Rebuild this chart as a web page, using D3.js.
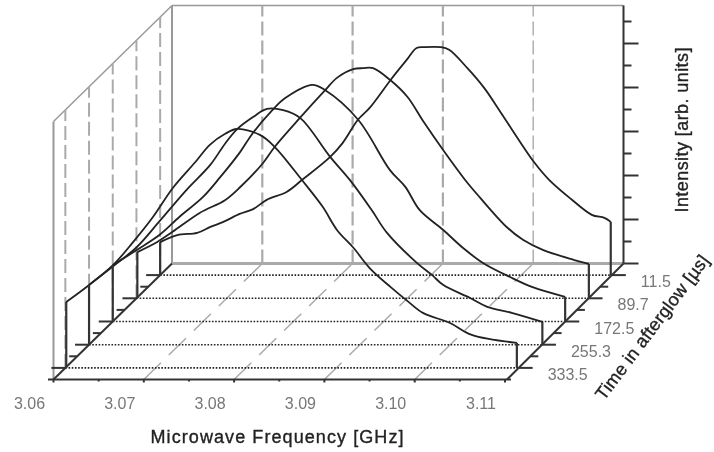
<!DOCTYPE html>
<html lang="en">
<head>
    <meta charset="UTF-8">
    <title>Microwave afterglow spectra</title>
    <script src="https://d3js.org/d3.v7.min.js"></script>
    <style>
        body { margin: 0; background: #fff; }
        svg { display: block; filter: blur(0.4px); }
        text { font-family: "Liberation Sans", Arial, sans-serif; }
        .tick-label { fill: #777; font-size: 16px; }
        .title { fill: #222; stroke: #222; stroke-width: 0.35; font-size: 18px; }
        .wall { stroke: #999; stroke-width: 2; fill: none; }
        .grid { stroke: #aaa; stroke-width: 2; fill: none; }
        .axis { stroke: #333; stroke-width: 2; fill: none; }
        .curve { stroke: #222; stroke-width: 1.8; fill: none; }
        .drop { stroke: #333; stroke-width: 2.2; fill: none; }
    </style>
</head>
<body>
    <svg width="714" height="452"></svg>
    <script>
        const freqTicks = [3.06, 3.07, 3.08, 3.09, 3.10, 3.11];
        const freqMinor = [3.065, 3.075, 3.085, 3.095, 3.105];
        const timeLabels = ["333.5", "255.3", "172.5", "89.7", "11.5"];
        const intensityTicks = [0, 1, 2, 3, 4, 5];
        const intensityMinor = [0.5, 1.5, 2.5, 3.5, 4.5, 5.5];

        const curve333 = [[3.0601,1.50],[3.0626,1.88],[3.0653,2.34],[3.0675,2.86],[3.0697,3.43],[3.0719,4.09],[3.0744,4.68],[3.0760,5.07],[3.0777,5.32],[3.0790,5.43],[3.0816,5.29],[3.0832,5.02],[3.0862,4.27],[3.0885,3.66],[3.0901,3.13],[3.0919,2.73],[3.0937,2.27],[3.0960,1.84],[3.0980,1.50],[3.0996,1.25],[3.1026,1.02],[3.1050,0.75],[3.1100,0.57]];
        const curve255 = [[3.0600,1.36],[3.0627,1.79],[3.0653,2.22],[3.0679,2.83],[3.0708,3.52],[3.0734,4.08],[3.0751,4.58],[3.0764,4.90],[3.0782,5.18],[3.0797,5.36],[3.0815,5.33],[3.0834,5.15],[3.0867,4.27],[3.0889,3.74],[3.0913,3.06],[3.0930,2.54],[3.0963,1.86],[3.0980,1.58],[3.0992,1.36],[3.1022,1.06],[3.1041,0.86],[3.1069,0.72],[3.1102,0.52]];
        const curve172 = [[3.0600,1.28],[3.0627,1.63],[3.0652,1.97],[3.0674,2.38],[3.0700,2.83],[3.0719,3.28],[3.0741,3.85],[3.0755,4.28],[3.0777,4.81],[3.0791,5.08],[3.0821,5.38],[3.0835,5.26],[3.0872,4.58],[3.0907,3.44],[3.0924,3.06],[3.0940,2.53],[3.0966,2.08],[3.0988,1.67],[3.1010,1.33],[3.1040,1.01],[3.1065,0.78],[3.1101,0.56]];
        const curve89 = [[3.0601,1.05],[3.0623,1.28],[3.0640,1.51],[3.0670,1.94],[3.0698,2.23],[3.0715,2.53],[3.0740,3.07],[3.0753,3.44],[3.0781,4.10],[3.0809,4.73],[3.0822,5.01],[3.0840,5.21],[3.0851,5.23],[3.0862,5.23],[3.0881,4.96],[3.0900,4.58],[3.0918,4.01],[3.0941,3.33],[3.0964,2.69],[3.0980,2.30],[3.1010,1.62],[3.1028,1.33],[3.1050,1.10],[3.1085,0.87],[3.1101,0.78]];
        const curve11 = [[3.0600,0.75],[3.0619,0.91],[3.0641,0.96],[3.0655,1.09],[3.0670,1.21],[3.0688,1.39],[3.0703,1.50],[3.0718,1.71],[3.0740,1.89],[3.0757,2.16],[3.0788,2.68],[3.0802,3.00],[3.0819,3.53],[3.0832,3.80],[3.0855,4.43],[3.0873,4.89],[3.0884,5.16],[3.0892,5.18],[3.0911,5.18],[3.0920,5.12],[3.0940,4.71],[3.0959,4.25],[3.0979,3.64],[3.1014,2.57],[3.1031,2.16],[3.1055,1.73],[3.1078,1.37],[3.1092,1.30],[3.1099,1.21]];
        const curves = [curve333, curve255, curve172, curve89, curve11];

        const svg = d3.select("svg");

        // oblique projection: frequency runs across, depth goes up and to the right
        const xFront = d3.scaleLinear().domain([3.06, 3.11]).range([53.5, 505]);
        const depth = d3.scalePoint().domain(timeLabels).range([0, 1]).padding(0.5);
        const depthDx = 118.5, depthDy = 116;
        const floorY = 379.5;
        const zScale = d3.scaleLinear().domain([0, 5]).range([0, 220]);
        const zTop = 258;

        const px = (freq, d) => xFront(freq) + depthDx * d;
        const py = (d, z) => floorY - depthDy * d - (z || 0);
        // right edge of the floor is a little steeper than the frequency grid
        const rightEdge = d => 507 + 116.5 * d;

        function seg(cls, x1, y1, x2, y2) {
            return svg.append("line").attr("class", cls)
                .attr("x1", x1).attr("y1", y1).attr("x2", x2).attr("y2", y2);
        }

        // back wall and left wall
        seg("wall", px(3.06, 1), py(1, zTop), px(3.11, 1), py(1, zTop)).style("stroke-width", 1.5);
        seg("wall", px(3.06, 1), py(1), px(3.06, 1), py(1, zTop));
        seg("wall", px(3.06, 0), py(0), px(3.06, 0), py(0, zTop));
        seg("wall", px(3.06, 0), py(0, zTop), px(3.06, 1), py(1, zTop)).style("stroke-width", 1.5);
        seg("wall", px(3.06, 1), py(1), px(3.11, 1), py(1)).style("stroke", "#aaa").style("stroke-width", 3);

        // dashed grid on back wall, floor and left wall
        freqTicks.slice(1, 5).forEach((f, i) => {
            seg("grid", px(f, 1), py(1), px(f, 1), py(1, zTop))
                .attr("stroke-dasharray", "14 5")
                .style("stroke-width", i == 3 ? 1.4 : 2.2);
            seg("grid", px(f, 0), py(0), px(f, 1), py(1))
                .attr("stroke-dasharray", "24 11").style("stroke-width", 1.5);
        });
        timeLabels.forEach(t => {
            const d = depth(t);
            seg("grid", px(3.06, d), py(d), px(3.06, d), py(d, zTop)).attr("stroke-dasharray", "14 5");
        });

        // dotted lines across the floor
        timeLabels.forEach(t => {
            const d = depth(t);
            seg("axis", px(3.06, d), py(d), rightEdge(d), py(d))
                .attr("stroke-dasharray", "1.6 1.6").style("stroke", "#222").style("stroke-width", 1.6);
        });

        // spectra, with the drop to the floor at each end
        const line = d3.line().curve(d3.curveCatmullRom.alpha(0.5));
        curves.forEach((c, i) => {
            const d = depth(timeLabels[i]);
            const pts = c.map(p => [px(p[0], d), py(d, zScale(p[1]))]);
            const first = pts[0], last = pts[pts.length - 1];
            seg("drop", first[0], py(d), first[0], first[1]);
            seg("drop", last[0], py(d), last[0], last[1]);
            svg.append("path").attr("class", "curve").attr("d", line(pts));
        });

        // floor edges and axes
        seg("axis", 48, floorY, 511, floorY).style("stroke-width", 2);
        seg("axis", px(3.06, 0), py(0), px(3.06, 1), py(1));
        seg("axis", rightEdge(0), py(0), px(3.11, 1), py(1));
        seg("axis", px(3.11, 1), py(1), px(3.11, 1), py(1, zTop));

        // frequency ticks
        freqTicks.forEach(f => {
            seg("axis", xFront(f), floorY, xFront(f), floorY + 3);
            svg.append("text").attr("class", "tick-label")
                .attr("x", xFront(f) - 24).attr("y", floorY + 29)
                .attr("text-anchor", "middle").text(f.toFixed(2));
        });
        freqMinor.forEach(f => seg("axis", xFront(f), floorY, xFront(f), floorY + 2));

        // time ticks, both floor edges
        timeLabels.forEach(t => {
            const d = depth(t);
            seg("axis", px(3.06, d) - 14, py(d), px(3.06, d), py(d));
            seg("axis", rightEdge(d), py(d), rightEdge(d) + 14, py(d));
            svg.append("text").attr("class", "tick-label")
                .attr("x", rightEdge(d) + 29).attr("y", py(d) + 12).text(t);
            // minor tick half a step towards the back
            const m = d + depth.step() / 2;
            if (m < 1) {
                seg("axis", px(3.06, m) - 8, py(m), px(3.06, m), py(m));
                seg("axis", rightEdge(m), py(m), rightEdge(m) + 8, py(m));
            }
        });

        // intensity ticks, no labels on this axis
        intensityTicks.forEach(v => seg("axis", px(3.11, 1), py(1, zScale(v)), px(3.11, 1) + 15, py(1, zScale(v))));
        intensityMinor.forEach(v => seg("axis", px(3.11, 1), py(1, zScale(v)), px(3.11, 1) + 8, py(1, zScale(v))));

        // titles
        svg.append("text").attr("class", "title")
            .attr("x", 277).attr("y", 443).attr("text-anchor", "middle")
            .attr("textLength", 253).text("Microwave Frequency [GHz]");
        svg.append("text").attr("class", "title")
            .attr("transform", "translate(688,130) rotate(-90)").attr("text-anchor", "middle")
            .attr("textLength", 165).text("Intensity [arb. units]");
        svg.append("text").attr("class", "title")
            .attr("transform", "translate(657,331) rotate(-53)").attr("text-anchor", "middle")
            .attr("textLength", 176).text("Time in afterglow [µs]");
    </script>
</body>
</html>
